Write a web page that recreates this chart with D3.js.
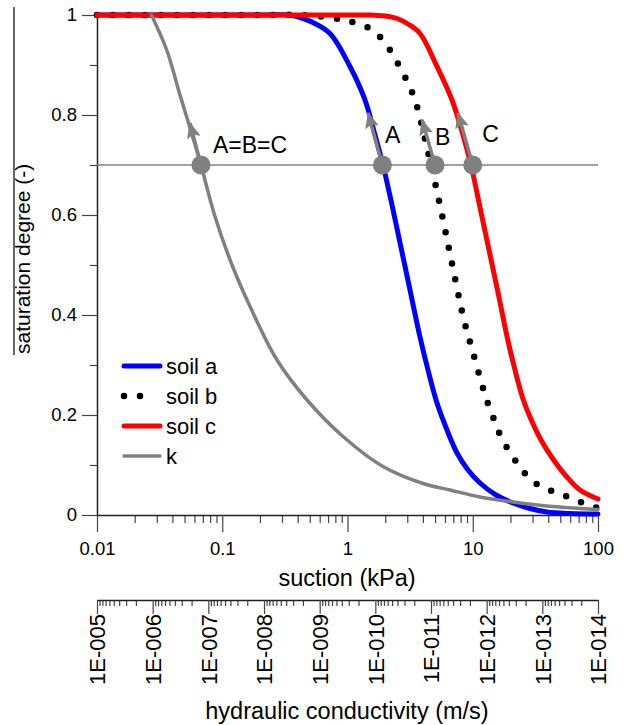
<!DOCTYPE html>
<html>
<head>
<meta charset="utf-8">
<script src="https://cdn.jsdelivr.net/npm/d3@7"></script>
<style>
  body { margin: 0; background: #fff; }
  text { font-family: "Liberation Sans", Arial, sans-serif; fill: #000; }
</style>
</head>
<body>
<div id="chart"></div>
<script>
// curves: [suction kPa, saturation degree]
const soilA = [[0.01,1],[0.2,1],[0.3475,1],[0.4177,0.995],[0.5304,0.985],[0.7248,0.963],[1.047,0.897],[1.38,0.83],[1.658,0.76],
  [1.92,0.7],[2.266,0.62],[2.674,0.535],[3.155,0.45],[3.792,0.356],[4.392,0.29],[5.184,0.224],[6.23,0.17],[7.486,0.124],
  [9.165,0.09],[11.43,0.064],[15.33,0.04],[20.96,0.024],[28.65,0.013],[39.16,0.006],[59.76,0.003],[100,0.002]];
const soilB = [[0.01,1],[0.25,1],[0.4177,1],[0.766,0.994],[1.009,0.988],[1.38,0.978],[1.752,0.96],[2.106,0.936],[2.485,0.906],
  [2.879,0.876],[3.273,0.846],[3.655,0.81],[4.157,0.752],[4.642,0.7],[5.184,0.647],[6.194,0.555],[7.445,0.457],[8.514,0.39],
  [9.99,0.327],[11.79,0.263],[12.93,0.23],[14.43,0.198],[16.0,0.168],[18.43,0.138],[21.74,0.11],[26.14,0.083],[32.4,0.062],
  [42.69,0.048],[56.25,0.037],[74.1,0.025],[100,0.014]];
const soilC = [[0.01,1],[1,1],[1.512,1],[1.992,0.998],[2.485,0.993],[3.041,0.982],[3.792,0.963],[5.184,0.897],[6.828,0.83],
  [8.36,0.76],[9.683,0.7],[11.43,0.615],[13.48,0.53],[15.91,0.445],[18.77,0.357],[21.74,0.29],[25.19,0.232],[28.65,0.196],
  [35.06,0.15],[43.71,0.112],[55.53,0.078],[71.83,0.05],[100,0.032]];
const kCurve = [[0.0272,1],[0.036,0.93],[0.046,0.84],[0.0588,0.752],[0.0676,0.7],[0.0875,0.597],[0.1197,0.5],[0.1667,0.417],
  [0.2737,0.31],[0.4753,0.23],[0.9204,0.157],[1.919,0.097],[4.008,0.063],[6.577,0.05],[11.4,0.036],[21,0.026],[39,0.018],
  [72,0.013],[100,0.011]];

const refLevel = 0.7;
const markerSuction = [0.0676, 1.9, 5.0, 10];
// arrows: from marker up along curve to tip
const arrowTips = [[0.0553,0.784],[1.46,0.804],[3.94,0.79],[7.62,0.804]];
const pointLabels = [{t:"A=B=C", s:0.0843, v:0.724}, {t:"A", s:1.99, v:0.744}, {t:"B", s:5.0, v:0.74}, {t:"C", s:11.9, v:0.746}];

const suctionTicks = [0.01, 0.1, 1, 10, 100];
const suctionLabels = ["0.01", "0.1", "1", "10", "100"];
const satTicks = [0, 0.2, 0.4, 0.6, 0.8, 1];
const satLabels = ["0", "0.2", "0.4", "0.6", "0.8", "1"];
const satMinor = [0.1, 0.3, 0.5, 0.7, 0.9];
const condTicks = [1e-5, 1e-6, 1e-7, 1e-8, 1e-9, 1e-10, 1e-11, 1e-12, 1e-13, 1e-14];
const condLabels = ["1E-005","1E-006","1E-007","1E-008","1E-009","1E-010","1E-011","1E-012","1E-013","1E-014"];

const legendItems = [
  {name: "soil a", color: "#0000ff", dash: null, w: 5},
  {name: "soil b", color: "#000", dash: "0 16", w: 6.5},
  {name: "soil c", color: "#ff0000", dash: null, w: 5},
  {name: "k", color: "#808080", dash: null, w: 3.5}
];

const width = 629, height = 725;
const svg = d3.select("#chart").append("svg")
  .attr("width", width).attr("height", height);

const x = d3.scaleLog().domain([0.01, 100]).range([97, 598]);
const y = d3.scaleLinear().domain([0, 1]).range([515, 15]);
const xk = d3.scaleLog().domain([1e-5, 1e-14]).range([97, 598]);

// minor tick helper for log axes
function minorTicks(decades) {
  const out = [];
  decades.slice(0, -1).forEach(d => { for (let m = 2; m <= 9; m++) out.push(d * m); });
  return out;
}

function styleAxis(g) {
  g.select(".domain").attr("stroke", "#222").attr("stroke-width", 1.5);
  g.selectAll(".tick line").attr("stroke", "#444").attr("stroke-width", 1.2);
  g.selectAll(".tick text").style("font-size", "18.5px").attr("fill", "#000")
    .style("font-family", '"Liberation Sans", Arial, sans-serif');
}

// suction axis
svg.append("g").attr("transform", "translate(0,515)")
  .call(d3.axisBottom(x).tickValues(minorTicks(suctionTicks)).tickSize(8).tickFormat(""))
  .call(g => g.select(".domain").remove())
  .call(styleAxis);
svg.append("g").attr("transform", "translate(0,515)")
  .call(d3.axisBottom(x).tickValues(suctionTicks).tickSize(17).tickSizeOuter(0).tickPadding(10)
    .tickFormat((d, i) => suctionLabels[i]))
  .call(styleAxis);

// saturation axis
svg.append("g").attr("transform", "translate(97,0)")
  .call(d3.axisLeft(y).tickValues(satMinor).tickSize(7).tickFormat(""))
  .call(g => g.select(".domain").remove())
  .call(styleAxis);
svg.append("g").attr("transform", "translate(97,0)")
  .call(d3.axisLeft(y).tickValues(satTicks).tickSize(15).tickSizeOuter(0).tickPadding(5)
    .tickFormat((d, i) => satLabels[i]))
  .call(styleAxis);

// hydraulic conductivity axis
svg.append("g").attr("transform", "translate(0,600)")
  .call(d3.axisBottom(xk).tickValues(minorTicks(condTicks.slice().reverse())).tickSize(6).tickFormat(""))
  .call(g => g.select(".domain").remove())
  .call(styleAxis);
svg.append("g").attr("transform", "translate(0,600)")
  .call(d3.axisBottom(xk).tickValues(condTicks).tickSize(14).tickSizeOuter(0)
    .tickFormat((d, i) => condLabels[i]))
  .call(styleAxis)
  .call(g => g.selectAll(".tick text")
    .attr("transform", "rotate(-90)")
    .attr("text-anchor", "end")
    .attr("x", -14).attr("y", 0).attr("dy", "0.35em")
    .style("font-size", "22px"));

// axis titles
svg.append("text").attr("x", 347).attr("y", 586).attr("text-anchor", "middle")
  .style("font-size", "23.5px").text("suction (kPa)");
svg.append("text").attr("x", 347).attr("y", 719).attr("text-anchor", "middle")
  .style("font-size", "23.5px").text("hydraulic conductivity (m/s)");
svg.append("text").attr("transform", "translate(30,354) rotate(-90)")
  .style("font-size", "21px").text("saturation degree (-)");
svg.append("line").attr("x1", 14).attr("x2", 14).attr("y1", 7).attr("y2", 355)
  .attr("stroke", "#000").attr("stroke-width", 1.2);

// reference line at S = 0.7
svg.append("line")
  .attr("x1", x(0.01)).attr("x2", x(100))
  .attr("y1", y(refLevel)).attr("y2", y(refLevel))
  .attr("stroke", "#808080").attr("stroke-width", 1.6);

const line = d3.line().x(d => x(d[0])).y(d => y(Math.min(1, d[1]))).curve(d3.curveCatmullRom.alpha(0.5));

const curves = [
  {data: soilA, color: "#0000ff", w: 5, dash: null},
  {data: soilB, color: "#000", w: 6.5, dash: "0 16"},
  {data: soilC, color: "#ff0000", w: 5, dash: null},
  {data: kCurve, color: "#808080", w: 3.5, dash: null}
];
svg.append("g").selectAll("path")
  .data(curves)
  .enter().append("path")
  .attr("d", d => line(d.data))
  .attr("fill", "none")
  .attr("stroke", d => d.color)
  .attr("stroke-width", d => d.w)
  .attr("stroke-linecap", "round")
  .attr("stroke-dasharray", d => d.dash);

// arrowhead
svg.append("defs").append("marker")
  .attr("id", "arrowhead")
  .attr("viewBox", "0 -7 16 14")
  .attr("refX", 15).attr("refY", 0)
  .attr("orient", "auto")
  .attr("markerUnits", "userSpaceOnUse")
  .attr("markerWidth", 16).attr("markerHeight", 14)
  .append("path")
  .attr("d", "M 0,-7 L 16,0 L 0,7 L 3,0 Z")
  .attr("fill", "#808080");

svg.append("g").selectAll("line")
  .data(markerSuction)
  .enter().append("line")
  .attr("x1", d => x(d)).attr("y1", y(refLevel))
  .attr("x2", (d, i) => x(arrowTips[i][0])).attr("y2", (d, i) => y(arrowTips[i][1]))
  .attr("stroke", "#808080").attr("stroke-width", 3.5)
  .attr("marker-end", "url(#arrowhead)");

svg.append("g").selectAll("circle")
  .data(markerSuction)
  .enter().append("circle")
  .attr("cx", d => x(d)).attr("cy", y(refLevel))
  .attr("r", 9.5)
  .attr("fill", "#808080");

svg.append("g").selectAll("text")
  .data(pointLabels)
  .enter().append("text")
  .attr("x", d => x(d.s)).attr("y", d => y(d.v))
  .style("font-size", "23px")
  .text(d => d.t);

// legend
const legend = svg.append("g").selectAll("g")
  .data(legendItems)
  .enter().append("g")
  .attr("transform", (d, i) => `translate(124,${366 + i * 30})`);
legend.append("line")
  .attr("x1", 0).attr("x2", d => d.dash ? 17 : 36)
  .attr("stroke", d => d.color)
  .attr("stroke-width", d => d.w)
  .attr("stroke-linecap", "round")
  .attr("stroke-dasharray", d => d.dash);
legend.append("text")
  .attr("x", 42).attr("dy", "0.35em")
  .style("font-size", "22px")
  .text(d => d.name);
</script>
</body>
</html>
